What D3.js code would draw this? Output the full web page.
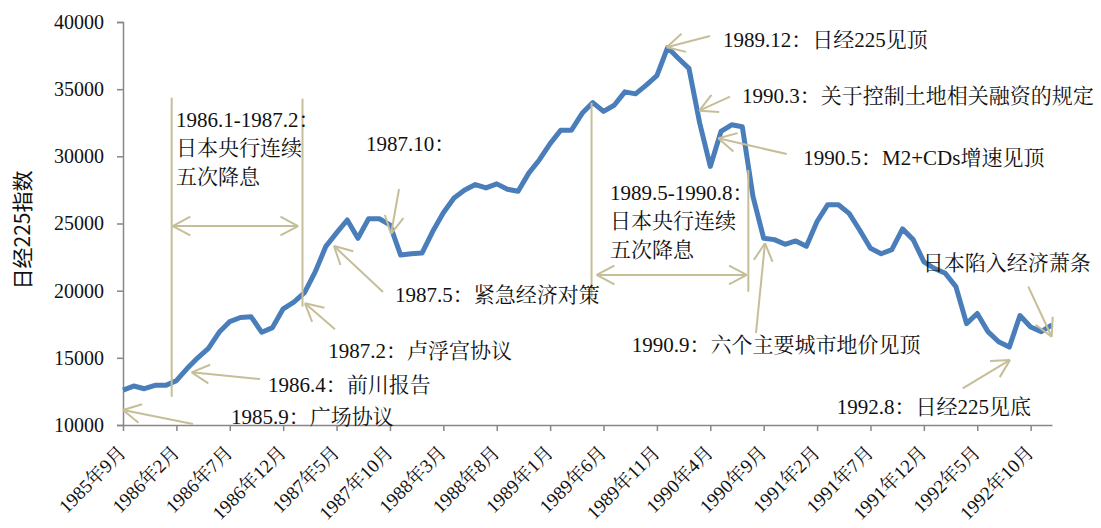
<!DOCTYPE html>
<html>
<head>
<meta charset="utf-8">
<script src="https://cdn.jsdelivr.net/npm/d3@7"></script>
<style>
  body { margin: 0; background: #fff; }
  svg { display: block; }
  text { font-family: "Times New Roman", "Liberation Serif", "Noto Serif CJK SC", "Noto Sans CJK SC", serif; fill: #111; }
</style>
</head>
<body>
<div id="chart"></div>
<script>
// monthly Nikkei 225, 1985.9 - 1992.12
const startMonth = new Date(1985, 8, 1);
const endMonth = new Date(1993, 0, 1);
const nikkei = [
  12600, 12900, 12700, 12950, 12950, 13300, 14200, 15000, 15700, 16900,
  17700, 18000, 18050, 16900, 17250, 18650, 19150, 19850, 21400, 23300,
  24300, 25260, 23900, 25350, 25350, 24900, 22650, 22750, 22800, 24400,
  25800, 26900, 27500, 27900, 27650, 27950, 27550, 27400, 28750, 29750,
  30950, 31950, 31950, 33200, 34000, 33350, 33800, 34800, 34650, 35300,
  36000, 38100, 37300, 36550, 32500, 29250, 31850, 32350, 32200, 27000,
  23900, 23800, 23450, 23700, 23300, 25150, 26400, 26400, 25750, 24500,
  23150, 22750, 23050, 24600, 23800, 22150, 21650, 21300, 20300, 17550,
  18300, 16950, 16200, 15800, 18150, 17300, 16950, 17450
];
const yTicks = [10000, 15000, 20000, 25000, 30000, 35000, 40000];
const xTickLabels = [
  "1985年9月", "1986年2月", "1986年7月", "1986年12月", "1987年5月", "1987年10月",
  "1988年3月", "1988年8月", "1989年1月", "1989年6月", "1989年11月", "1990年4月",
  "1990年9月", "1991年2月", "1991年7月", "1991年12月", "1992年5月", "1992年10月"
];
const yTitle = "日经225指数";

// annotations, anchored in chart units: i = month index, v = index level
const arrows = [
  { head: [0, 11120], tail: [6.55, 10070] },
  { head: [6.43, 13920], tail: [12.83, 13420] },
  { head: [17.04, 19060], tail: [19.85, 17120] },
  { head: [19.76, 23320], tail: [24.35, 19900] },
  { head: [25.1, 24220], tail: [25.85, 27570] },
  { head: [50.92, 38120], tail: [54.98, 38960] },
  { head: [53.97, 33400], tail: [56.85, 34440] },
  { head: [55.75, 31340], tail: [62.16, 30170] },
  { head: [60.12, 23530], tail: [59.28, 16850] },
  { head: [86.97, 16570], tail: [84.78, 20300] },
  { head: [83.07, 14840], tail: [78.64, 12730] }
];
const notes = [
  { at: [10.11, 10070], lines: ["1985.9：广场协议"] },
  { at: [13.58, 12460], lines: ["1986.4：前川报告"] },
  { at: [19.23, 14990], lines: ["1987.2：卢浮宫协议"] },
  { at: [25.47, 19160], lines: ["1987.5：紧急经济对策"] },
  { at: [22.76, 30400], lines: ["1987.10："] },
  { at: [56.19, 38140], lines: ["1989.12：日经225见顶"] },
  { at: [57.97, 33970], lines: ["1990.3：关于控制土地相关融资的规定"] },
  { at: [63.71, 29350], lines: ["1990.5：M2+CDs增速见顶"] },
  { at: [47.64, 15430], lines: ["1990.9：六个主要城市地价见顶"] },
  { at: [74.89, 21540], lines: ["日本陷入经济萧条"] },
  { at: [66.84, 10820], lines: ["1992.8：日经225见底"] },
  { at: [4.96, 32200], lines: ["1986.1-1987.2：", "日本央行连续", "五次降息"] },
  { at: [45.61, 26750], lines: ["1989.5-1990.8：", "日本央行连续", "五次降息"] }
];
// easing periods: two vertical bounds and a double arrow between them
const periods = [
  { left: [4.56, 34360, 12110], right: [16.81, 34290, 18810], arrow: [4.65, 16.4, 24810] },
  { left: [43.88, 33990, 19550], right: [58.56, 28980, 19920], arrow: [44.36, 58.41, 21170] }
];

const width = 1101, height = 528;
const margin = { top: 22, right: 49, bottom: 103, left: 123 };
const annColor = "#c6be98";

const months = d3.timeMonth.range(startMonth, endMonth).map((d) => `${d.getFullYear()}年${d.getMonth() + 1}月`);

const svg = d3.select("#chart").append("svg").attr("width", width).attr("height", height);

const x = d3.scalePoint().domain(months).range([margin.left, width - margin.right]);
const xi = (i) => x(months[0]) + i * x.step();
const y = d3.scaleLinear().domain([10000, 40000]).range([height - margin.bottom, margin.top]);

// y axis
const yAxis = svg.append("g")
  .attr("transform", `translate(${margin.left},0)`)
  .call(d3.axisLeft(y).tickValues(yTicks).tickSize(6).tickPadding(13).tickFormat(d3.format("d")));
yAxis.attr("font-family", null);
yAxis.select(".domain").attr("stroke", "#878787").attr("stroke-width", 1.5);
yAxis.selectAll(".tick line").attr("stroke", "#878787").attr("stroke-width", 1.5);
yAxis.selectAll(".tick text").attr("font-size", 20).attr("fill", "#111");

// x axis, a tick every five months
const xAxis = svg.append("g")
  .attr("transform", `translate(0,${height - margin.bottom})`)
  .call(d3.axisBottom(x).tickValues(xTickLabels).tickSize(6).tickSizeOuter(0));
xAxis.attr("font-family", null);
xAxis.select(".domain").attr("stroke", "#878787").attr("stroke-width", 1.5);
xAxis.selectAll(".tick line").attr("stroke", "#878787").attr("stroke-width", 1.5);
xAxis.selectAll(".tick text")
  .attr("font-size", 19)
  .attr("text-anchor", "end")
  .attr("dy", "0.35em")
  .attr("transform", "translate(-1,24) rotate(-45)")
  .attr("y", 0)
  .attr("x", 0);

// y title
svg.append("text")
  .attr("transform", `translate(23,230) rotate(-90)`)
  .attr("text-anchor", "middle")
  .attr("dy", "0.35em")
  .attr("font-size", 21)
  .style("font-family", "'Noto Sans CJK SC', sans-serif")
  .text(yTitle);

// the index line
const line = d3.line()
  .x((d, i) => x(months[i]))
  .y((d) => y(d));

svg.append("path")
  .datum(nikkei)
  .attr("fill", "none")
  .attr("stroke", "#4a7ebb")
  .attr("stroke-width", 5)
  .attr("stroke-linejoin", "round")
  .attr("d", line);

// annotation layer
const ann = svg.append("g").attr("stroke", annColor).attr("stroke-width", 2).attr("fill", "none");

const barbs = (hx, hy, tx, ty) => {
  const a = Math.atan2(ty - hy, tx - hx);
  const len = 20, spread = 28 * Math.PI / 180;
  return [a - spread, a + spread].map((b) => [hx + len * Math.cos(b), hy + len * Math.sin(b)]);
};

const drawArrow = (hx, hy, tx, ty) => {
  ann.append("line").attr("x1", tx).attr("y1", ty).attr("x2", hx).attr("y2", hy);
  barbs(hx, hy, tx, ty).forEach(([bx, by]) => {
    ann.append("line").attr("x1", hx).attr("y1", hy).attr("x2", bx).attr("y2", by);
  });
};

arrows.forEach((a) => {
  drawArrow(xi(a.head[0]), y(a.head[1]), xi(a.tail[0]), y(a.tail[1]));
});

periods.forEach((p) => {
  ann.append("line")
    .attr("x1", xi(p.left[0])).attr("x2", xi(p.left[0]))
    .attr("y1", y(p.left[1])).attr("y2", y(p.left[2]));
  ann.append("line")
    .attr("x1", xi(p.right[0])).attr("x2", xi(p.right[0]))
    .attr("y1", y(p.right[1])).attr("y2", y(p.right[2]));
  const ax1 = xi(p.arrow[0]), ax2 = xi(p.arrow[1]), ay = y(p.arrow[2]);
  drawArrow(ax1, ay, ax2, ay);
  barbs(ax2, ay, ax1, ay).forEach(([bx, by]) => {
    ann.append("line").attr("x1", ax2).attr("y1", ay).attr("x2", bx).attr("y2", by);
  });
});

// annotation text
notes.forEach((n) => {
  const t = svg.append("text")
    .attr("x", xi(n.at[0]))
    .attr("y", y(n.at[1]))
    .attr("font-size", 21);
  n.lines.forEach((s, k) => {
    t.append("tspan")
      .attr("x", xi(n.at[0]))
      .attr("dy", k === 0 ? 0 : 28.4)
      .text(s);
  });
});
</script>
</body>
</html>
